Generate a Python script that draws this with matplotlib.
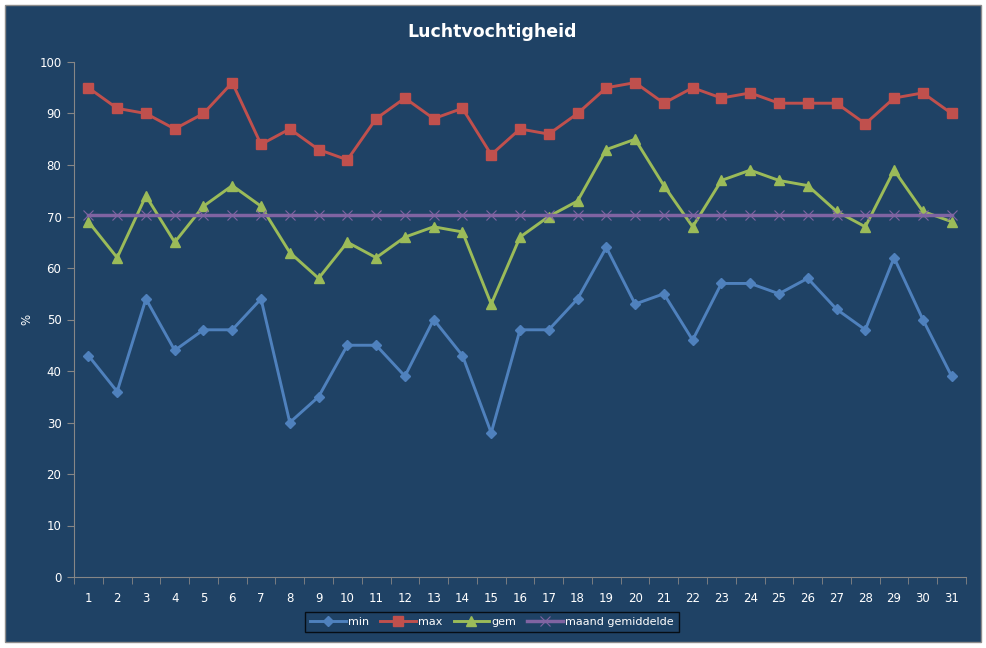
import matplotlib.pyplot as plt
import numpy as np
from matplotlib.patches import Rectangle

# data
days = list(range(1, 32))
min_vals = [43, 36, 54, 44, 48, 48, 54, 30, 35, 45, 45, 39, 50, 43, 28, 48,
            48, 54, 64, 53, 55, 46, 57, 57, 55, 58, 52, 48, 62, 50, 39]
max_vals = [95, 91, 90, 87, 90, 96, 84, 87, 83, 81, 89, 93, 89, 91, 82, 87,
            86, 90, 95, 96, 92, 95, 93, 94, 92, 92, 92, 88, 93, 94, 90]
gem_vals = [69, 62, 74, 65, 72, 76, 72, 63, 58, 65, 62, 66, 68, 67, 53, 66,
            70, 73, 83, 85, 76, 68, 77, 79, 77, 76, 71, 68, 79, 71, 69]
maand_gem = [70.3] * 31

bg = "#1F4265"
txt = "#FFFFFF"
W, H = 987, 648

fig = plt.figure(figsize=(9.87, 6.48), dpi=100)
fig.patch.set_facecolor("white")
# chart area with thin gray border, white margin outside
fig.patches.append(Rectangle((5 / W, 1 - 642 / H), 976 / W, 637 / H,
                             transform=fig.transFigure, facecolor=bg,
                             edgecolor="#8C8C8C", lw=1, zorder=-10))

ax = fig.add_axes([74 / W, 1 - 577 / H, 892 / W, 515 / H])
ax.set_facecolor(bg)

ax.plot(days, min_vals, color="#4F81BD", lw=2.1, marker="D", ms=5, label="min")
ax.plot(days, max_vals, color="#C0504D", lw=2.1, marker="s", ms=6.5, label="max")
ax.plot(days, gem_vals, color="#9BBB59", lw=2.1, marker="^", ms=6.5, label="gem")
ax.plot(days, maand_gem, color="#8064A2", lw=2.5, marker="x", ms=7, mew=0.8,
        label="maand gemiddelde")

ax.set_xlim(0.5, 31.5)
ax.set_ylim(0, 100)
ax.set_yticks(range(0, 101, 10))
ax.set_xticks(days)
ax.set_xticks(np.arange(0.5, 32, 1), minor=True)
ax.tick_params(axis="x", which="major", length=0, pad=11, colors=txt, labelsize=8.5)
ax.tick_params(axis="x", which="minor", length=5, color="#868686")
ax.tick_params(axis="y", length=5, color="#868686", colors=txt, labelsize=8.5, pad=4)
for s in ["top", "right"]:
    ax.spines[s].set_visible(False)
for s in ["left", "bottom"]:
    ax.spines[s].set_color("#868686")

ax.set_ylabel("%", color=txt, fontsize=8.5, labelpad=4)
fig.text(492 / W, 1 - 32 / H, "Luchtvochtigheid", ha="center", va="center",
         color=txt, fontsize=12.5, fontweight="bold")

leg = fig.legend(loc="center", bbox_to_anchor=(492 / W, 1 - 622 / H), ncol=4,
                 frameon=True, fontsize=8, handlelength=3.2, columnspacing=1.0,
                 borderpad=0.45, handletextpad=0.2)
leg.get_frame().set_facecolor(bg)
leg.get_frame().set_edgecolor("black")
leg.get_frame().set_boxstyle("square", pad=0)
for t in leg.get_texts():
    t.set_color(txt)

fig.savefig("out.png", dpi=100, facecolor="white")
